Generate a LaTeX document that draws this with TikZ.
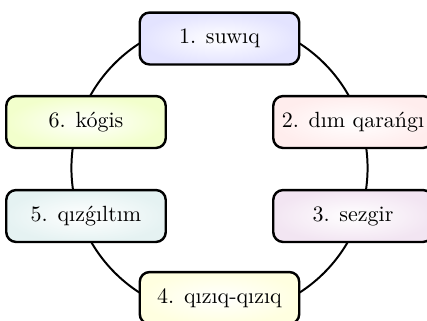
\documentclass[tikz,border=0pt]{standalone}
\begin{document}
\begin{tikzpicture}[x=0.4545pt,y=-0.4545pt,
  stagebox/.style={draw=black, line width=1.1pt, rounded corners=4.5pt,
    minimum width=72.5pt, minimum height=23.6pt, inner sep=2pt, inner color=white},
  ring/.style={draw=black, line width=0.9pt}]
\useasboundingbox (0,0) rectangle (427,320);
\coordinate (c) at (219.5,168);
\draw[ring] (c) circle[radius=67.3pt];
\node[stagebox, outer color=blue!11] (n1) at (219.5,38.5) {1. suwıq};
\node[stagebox, outer color=red!7] (n2) at (353,122) {2. dım qarańgı};
\node[stagebox, outer color=violet!10] (n3) at (353,216) {3. sezgir};
\node[stagebox, outer color=yellow!12] (n4) at (219.5,298) {4. qızıq-qızıq};
\node[stagebox, outer color=teal!10] (n5) at (86,216) {5. qızǵıltım};
\node[stagebox, outer color=lime!20] (n6) at (86,122) {6. kógis};
\end{tikzpicture}
\end{document}
